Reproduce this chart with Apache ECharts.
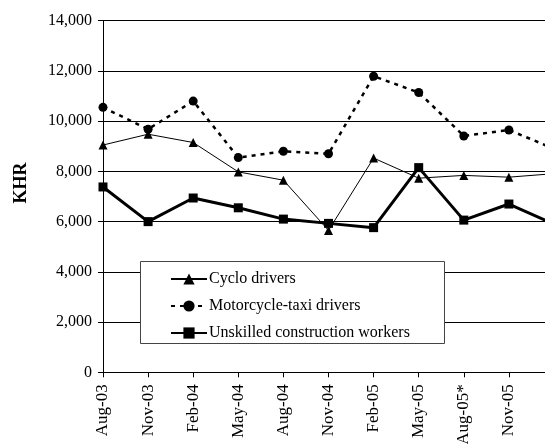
<!doctype html>
<html>
<head>
  <meta charset="utf-8">
  <script src="https://cdn.jsdelivr.net/npm/echarts@6/dist/echarts.min.js"></script>
  <style>
    html, body { margin: 0; padding: 0; background: #fff; }
    #chart { width: 545px; height: 444px; }
  </style>
</head>
<body>
  <div id="chart"></div>
  <script type="text/javascript">
    // survey rounds (last one is cut off at the right edge of the picture)
    var months = ['Aug-03', 'Nov-03', 'Feb-04', 'May-04', 'Aug-04', 'Nov-04', 'Feb-05', 'May-05', 'Aug-05*', 'Nov-05', 'Feb-06'];

    // daily wages, KHR
    var cycloDrivers = [9050, 9480, 9150, 7980, 7650, 5650, 8530, 7730, 7840, 7770, 7910];
    var motoTaxiDrivers = [10550, 9680, 10800, 8550, 8800, 8700, 11790, 11140, 9410, 9650, 8900];
    var constructionWorkers = [7380, 6000, 6940, 6550, 6100, 5930, 5760, 8150, 6060, 6700, 5900];

    var yTicks = { min: 0, max: 14000, step: 2000 };

    var serif = '"Liberation Serif", "Times New Roman", serif';

    var myChart = echarts.init(document.getElementById('chart'));

    var option = {
      animation: false,
      backgroundColor: '#fff',
      grid: {
        left: 103,
        top: 20.7,
        right: -9,
        bottom: 71.7,
        containLabel: false,
        outerBoundsMode: 'none'
      },
      legend: {
        orient: 'vertical',
        left: 170,
        top: 271,
        itemWidth: 36,
        itemHeight: 14,
        itemGap: 11,
        padding: 0,
        z: 10,
        textStyle: { fontFamily: serif, fontSize: 16, color: '#000', padding: [0, 0, 0, -3] },
        data: ['Cyclo drivers', 'Motorcycle-taxi drivers', 'Unskilled construction workers']
      },
      graphic: [
        {
          type: 'rect',
          z: 5,
          shape: { x: 140.5, y: 261.5, width: 304, height: 82 },
          style: { fill: '#fff', stroke: '#444', lineWidth: 1 }
        },
        {
          type: 'text',
          x: 21,
          y: 183,
          rotation: Math.PI / 2,
          style: {
            text: 'KHR',
            font: 'bold 18px ' + serif,
            fill: '#000',
            align: 'center',
            verticalAlign: 'middle'
          }
        }
      ],
      xAxis: {
        type: 'category',
        data: months,
        boundaryGap: false,
        axisLine: { lineStyle: { color: '#000', width: 1 } },
        axisTick: { show: true, inside: false, length: 5, interval: 0, lineStyle: { color: '#000' } },
        axisLabel: {
          interval: 0,
          rotate: 90,
          margin: 12,
          fontFamily: serif,
          fontSize: 17,
          color: '#000'
        },
        splitLine: { show: false }
      },
      yAxis: {
        type: 'value',
        min: yTicks.min,
        max: yTicks.max,
        interval: yTicks.step,
        axisLine: { show: true, lineStyle: { color: '#000', width: 1 } },
        axisTick: { show: true, inside: false, length: 5, lineStyle: { color: '#000' } },
        axisLabel: {
          margin: 11,
          fontFamily: serif,
          fontSize: 16,
          color: '#000',
          formatter: function (v) { return v.toLocaleString('en-US'); }
        },
        splitLine: { show: true, lineStyle: { color: '#000', width: 1 } }
      },
      series: [
        {
          name: 'Cyclo drivers',
          type: 'line',
          data: cycloDrivers,
          symbol: 'triangle',
          symbolSize: 9,
          color: '#000',
          lineStyle: { color: '#000', width: 1 },
          itemStyle: { color: '#000' }
        },
        {
          name: 'Motorcycle-taxi drivers',
          type: 'line',
          data: motoTaxiDrivers,
          symbol: 'circle',
          symbolSize: 9,
          color: '#000',
          lineStyle: { color: '#000', width: 2.5, type: [4, 5] },
          itemStyle: { color: '#000' }
        },
        {
          name: 'Unskilled construction workers',
          type: 'line',
          data: constructionWorkers,
          symbol: 'rect',
          symbolSize: 9,
          color: '#000',
          lineStyle: { color: '#000', width: 3 },
          itemStyle: { color: '#000' }
        }
      ]
    };

    myChart.setOption(option);
  </script>
</body>
</html>
